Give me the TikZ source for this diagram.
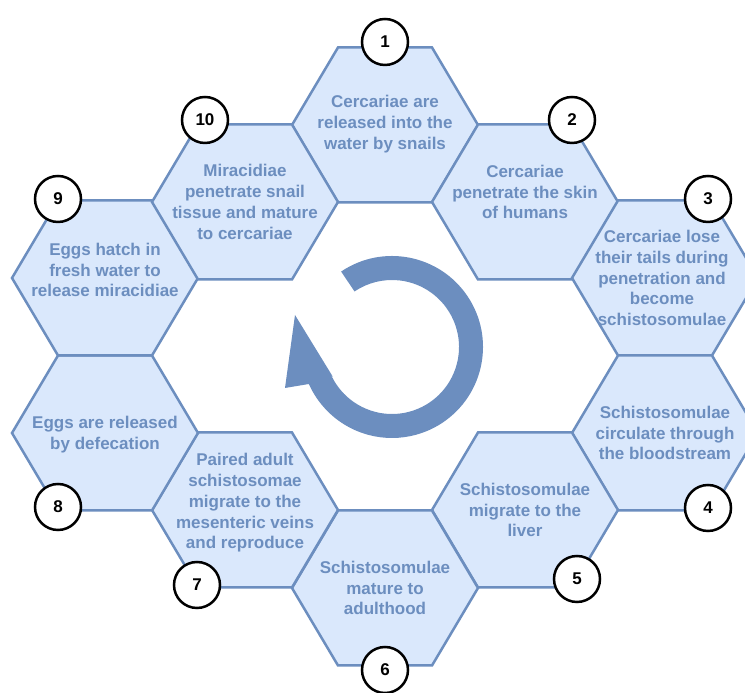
\documentclass[tikz,border=0pt]{standalone}
\usepackage{fontspec}
\setmainfont{Liberation Sans}
\definecolor{cellfill}{HTML}{DAE8FC}
\definecolor{cellline}{HTML}{6C8EBF}

\begin{document}
\begin{tikzpicture}[
    x=1pt, y=1pt,
    cell/.style={fill=cellfill, draw=cellline, line width=2.5pt, line join=miter},
    txt/.style={text=cellline, align=center, font=\fontsize{17}{20.8}\selectfont\bfseries, inner sep=0pt},
    num/.style={circle, draw=black, fill=white, line width=2.5pt, minimum size=46pt, inner sep=0pt,
                font=\fontsize{17}{20}\selectfont\bfseries}
]
    \useasboundingbox (0,0) rectangle (745,693);
    \clip (0,0) rectangle (745,693);

    % 蜂窝格子 (10个六边形)
    \foreach \i/\x/\y in {1/385/568, 2/525/491, 3/665/415, 4/665/260, 5/525/183,
                          6/385/105, 7/245/183, 8/105/260, 9/105/415, 10/245/491} {
        \coordinate (c\i) at (\x,\y);
        \draw[cell] (c\i) ++(-93,0) -- ++(46,77.5) -- ++(94,0) -- ++(46,-77.5)
                    -- ++(-46,-77.5) -- ++(-94,0) -- cycle;
    }

    % 格子里的文字
    \node[txt] (t1) at ([yshift=1]c1) {Cercariae are\\released into the\\water by snails};
    \node[txt] (t2) at ([yshift=10]c2) {Cercariae\\penetrate the skin\\of humans};
    \node[txt] (t3) at ([xshift=-3]c3) {Cercariae lose\\their tails during\\penetration and\\become\\schistosomulae};
    \node[txt] (t4) at (c4) {Schistosomulae\\circulate through\\the bloodstream};
    \node[txt] (t5) at (c5) {Schistosomulae\\migrate to the\\liver};
    \node[txt] (t6) at (c6) {Schistosomulae\\mature to\\adulthood};
    \node[txt] (t7) at ([yshift=7]c7) {Paired adult\\schistosomae\\migrate to the\\mesenteric veins\\and reproduce};
    \node[txt] (t8) at ([yshift=-2]c8) {Eggs are released\\by defecation};
    \node[txt] (t9) at ([yshift=8]c9) {Eggs hatch in\\fresh water to\\release miracidiae};
    \node[txt] (t10) at ([yshift=0]c10) {Miracidiae\\penetrate snail\\tissue and mature\\to cercariae};

    % 编号圆圈
    \node[num] (n1) at (385,651) {1};
    \node[num] (n2) at (572,573) {2};
    \node[num] (n3) at (708,494) {3};
    \node[num] (n4) at (708,185) {4};
    \node[num] (n5) at (577,114) {5};
    \node[num] (n6) at (385,23) {6};
    \node[num] (n7) at (197,108) {7};
    \node[num] (n8) at (58,186) {8};
    \node[num] (n9) at (58,494) {9};
    \node[num] (n10) at (205,573) {10};

    % 中间的循环箭头
    \begin{scope}[shift={(392,346)}]
        \fill[cellline] (124:91) arc[start angle=124, end angle=-156, radius=91]
            -- (-107,-41) -- (-97,32) -- (-59,-30)
            -- (-156:67) arc[start angle=-156, end angle=124, radius=67] -- cycle;
    \end{scope}

\end{tikzpicture}
\end{document}
